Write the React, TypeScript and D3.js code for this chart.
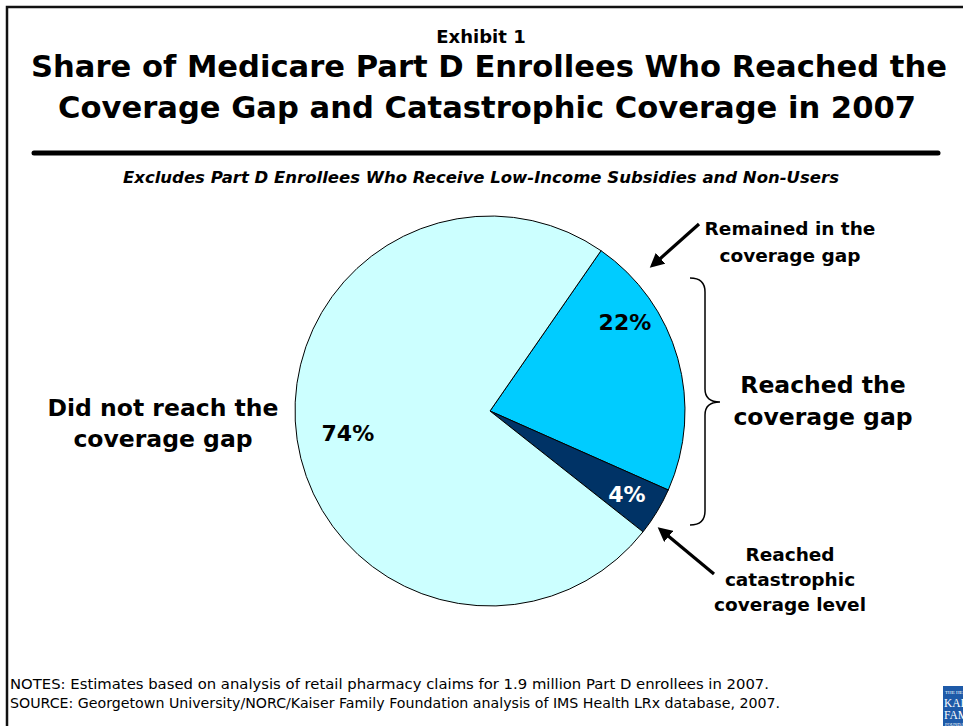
import React from "react";
import * as d3 from "d3";

const categories = ["Remained in the coverage gap", "Reached catastrophic coverage level", "Did not reach the coverage gap"];
const values = [22, 4, 74];
const valueLabels = ["22%", "4%", "74%"];
const sliceColors = ["#00CCFF", "#003366", "#CCFFFF"];
const labelColors = ["#000000", "#FFFFFF", "#000000"];
const titleLines = [
  "Share of Medicare Part D Enrollees Who Reached the",
  "Coverage Gap and Catastrophic Coverage in 2007",
];
const subtitle = "Excludes Part D Enrollees Who Receive Low-Income Subsidies and Non-Users";
const notes = [
  "NOTES: Estimates based on analysis of retail pharmacy claims for 1.9 million Part D enrollees in 2007.",
  "SOURCE: Georgetown University/NORC/Kaiser Family Foundation analysis of IMS Health LRx database, 2007.",
];

const W = 963;
const H = 726;
const FONT = "'DejaVu Sans', Verdana, sans-serif";

export default function App() {
  const cx = 490;
  const cy = 411;
  const r = 195;
  const startDeg = 34.7;
  const pie = d3
    .pie<number>()
    .sort(null)
    .startAngle((startDeg * Math.PI) / 180)
    .endAngle((startDeg * Math.PI) / 180 + 2 * Math.PI);
  const arcs = pie(values);
  const arc = d3.arc<d3.PieArcDatum<number>>().innerRadius(0).outerRadius(r);
  const labelArc = d3
    .arc<d3.PieArcDatum<number>>()
    .innerRadius(r * 0.82)
    .outerRadius(r * 0.82);
  const labelNudge: [number, number][] = [[-19, -46], [0, 0], [16, -2]];

  return (
    <svg
      width={W}
      height={H}
      style={{ position: "fixed", left: 0, top: 0, background: "#fff" }}
      fontFamily={FONT}
    >
      <defs>
        <marker id="ah" viewBox="0 0 10 10" refX="7" refY="5" markerWidth="4.5" markerHeight="4.5" orient="auto">
          <path d="M0,0 L10,5 L0,10 z" fill="#000" />
        </marker>
        <clipPath id="clip">
          <rect x={0} y={0} width={W} height={H} />
        </clipPath>
      </defs>
      <rect x={0} y={0} width={W} height={H} fill="#fff" />
      {/* frame */}
      <path d={`M7,${H + 5} L7,7 L${W + 5},7`} fill="none" stroke="#111" strokeWidth={2.5} />

      <text x={481} y={43} textAnchor="middle" fontWeight="bold" fontSize={18}>Exhibit 1</text>
      <text x={489} y={77} textAnchor="middle" fontWeight="bold" fontSize={30.6}>{titleLines[0]}</text>
      <text x={487} y={118} textAnchor="middle" fontWeight="bold" fontSize={30.6}>{titleLines[1]}</text>
      <line x1={34} x2={938} y1={153} y2={153} stroke="#000" strokeWidth={5} strokeLinecap="round" />
      <text x={481} y={183} textAnchor="middle" fontWeight="bold" fontStyle="italic" fontSize={16.5}>{subtitle}</text>

      <g transform={`translate(${cx},${cy})`}>
        {arcs.map((a, i) => (
          <path key={categories[i]} d={arc(a) || ""} fill={sliceColors[i]} stroke="#000" strokeWidth={1} />
        ))}
        {arcs.map((a, i) => {
          const [x, y] = labelArc.centroid(a);
          return (
            <text
              key={"l" + i}
              x={x + labelNudge[i][0]}
              y={y + labelNudge[i][1]}
              dy="0.36em"
              textAnchor="middle"
              fontWeight="bold"
              fontSize={22}
              fill={labelColors[i]}
            >
              {valueLabels[i]}
            </text>
          );
        })}
      </g>

      {/* left label */}
      <text textAnchor="middle" fontWeight="bold" fontSize={23.5}>
        <tspan x={163} y={416}>Did not reach the</tspan>
        <tspan x={163} y={447}>coverage gap</tspan>
      </text>

      {/* right labels */}
      <text textAnchor="middle" fontWeight="bold" fontSize={18.5}>
        <tspan x={790} y={235}>Remained in the</tspan>
        <tspan x={790} y={262}>coverage gap</tspan>
      </text>
      <text textAnchor="middle" fontWeight="bold" fontSize={23.5}>
        <tspan x={823} y={393}>Reached the</tspan>
        <tspan x={823} y={425}>coverage gap</tspan>
      </text>
      <text textAnchor="middle" fontWeight="bold" fontSize={18.5}>
        <tspan x={790} y={561}>Reached</tspan>
        <tspan x={790} y={586}>catastrophic</tspan>
        <tspan x={790} y={611}>coverage level</tspan>
      </text>

      {/* arrows */}
      <line x1={699} y1={224} x2={653} y2={265} stroke="#000" strokeWidth={3.2} markerEnd="url(#ah)" />
      <line x1={714} y1={574} x2={661} y2={530} stroke="#000" strokeWidth={3.2} markerEnd="url(#ah)" />

      {/* brace */}
      <path
        d="M690,278 Q705,278 705,292 L705,389 Q705,402 720,402 Q705,402 705,415 L705,511 Q705,525 690,525"
        fill="none"
        stroke="#000"
        strokeWidth={1.5}
      />

      {/* notes */}
      <text fontSize={14} fill="#000" x={10} y={689} textLength={759} lengthAdjust="spacingAndGlyphs">{notes[0]}</text>
      <text fontSize={14} fill="#000" x={10} y={708} textLength={770} lengthAdjust="spacingAndGlyphs">{notes[1]}</text>

      {/* logo */}
      <g clipPath="url(#clip)">
        <rect x={943} y={686} width={30} height={42} fill="#1e5aa8" />
        <text fontFamily="'Liberation Serif', serif" fill="#fff">
          <tspan x={945} y={694} fontSize={5}>THE HENRY</tspan>
          <tspan x={944} y={707} fontSize={11.5}>KAISER</tspan>
          <tspan x={944} y={719} fontSize={11.5}>FAMILY</tspan>
          <tspan x={945} y={725.5} fontSize={4.5}>FOUNDATION</tspan>
        </text>
      </g>
    </svg>
  );
}
